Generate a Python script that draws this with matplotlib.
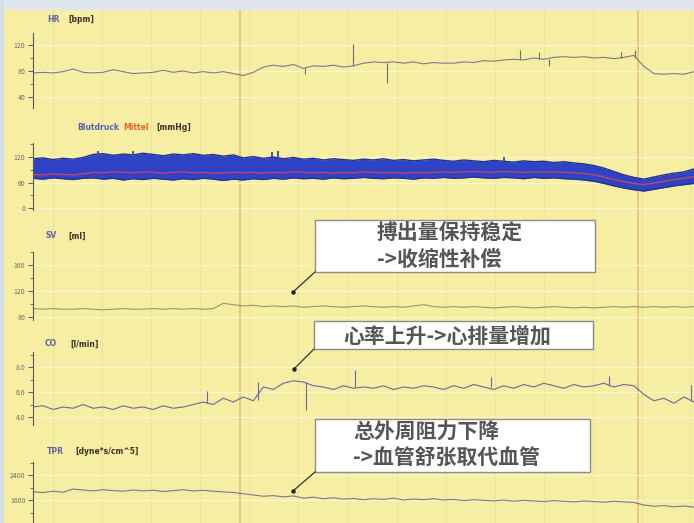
import matplotlib.pyplot as plt
import numpy as np
from matplotlib.patches import Rectangle
from matplotlib.ticker import AutoMinorLocator

plt.rcParams['font.family'] = ['Noto Sans CJK SC', 'DejaVu Sans']

# one sample per time step (about 10 px of the original trace)
hr = [77, 78, 77, 79, 83, 78, 77, 78, 82, 79,
      76, 77, 78, 81, 78, 80, 77, 79, 77, 79,
      76, 73, 78, 86, 89, 87, 90, 84, 88, 87,
      89, 86, 88, 92, 94, 93, 94, 92, 94, 91,
      93, 92, 92, 94, 93, 96, 95, 97, 98, 97,
      100, 98, 101, 102, 101, 102, 100, 101, 99, 101,
      104, 87, 76, 75, 76, 75, 79]
hr_spike_t = [27.2, 32.0, 35.3, 48.6, 50.5, 51.5, 58.7, 60.1]
hr_spike_lo = [75, 88, 62, 98, 99, 88, 100, 100]
hr_spike_hi = [85, 121, 93, 112, 110, 99, 109, 113]

bp_upper = [116, 118, 114, 117, 115, 119, 126, 128, 124, 127,
            125, 129, 126, 123, 127, 125, 128, 124, 126, 122,
            125, 118, 121, 117, 120, 116, 119, 115, 117, 113,
            116, 114, 112, 115, 113, 116, 112, 114, 111, 113,
            115, 112, 110, 113, 111, 109, 112, 110, 108, 111,
            109, 110, 107, 109, 106, 104, 100, 94, 86, 78,
            72, 68, 73, 78, 82, 85, 92]
bp_lower = [70, 68, 71, 69, 67, 70, 71, 68, 70, 66,
            69, 67, 70, 68, 66, 69, 67, 70, 68, 65,
            68, 66, 69, 67, 70, 68, 71, 69, 70, 68,
            71, 69, 70, 72, 70, 69, 71, 70, 68, 71,
            70, 72, 70, 71, 73, 71, 70, 72, 71, 69,
            72, 70, 71, 69, 68, 66, 63, 58, 52, 47,
            43, 40, 44, 48, 52, 55, 58]
bp_mean = [79, 78, 80, 79, 78, 80, 84, 83, 85, 84,
           83, 85, 84, 82, 84, 85, 83, 84, 82, 83,
           84, 83, 84, 82, 84, 83, 85, 84, 83, 84,
           82, 84, 83, 85, 84, 83, 84, 82, 84, 83,
           84, 85, 84, 85, 86, 85, 84, 86, 85, 84,
           85, 84, 85, 84, 83, 81, 78, 73, 67, 62,
           58, 55, 59, 63, 67, 70, 74]
bp_spike_t = [6.5, 10.0, 23.9, 24.5, 47.0]
bp_spike_lo = [126, 127, 117, 118, 110]
bp_spike_hi = [134, 133, 131, 135, 119]

sv = [93, 92, 93, 92, 92, 93, 92, 91, 92, 93,
      92, 92, 93, 92, 93, 92, 93, 92, 93, 101,
      99, 97, 98, 96, 97, 96, 97, 95, 96, 97,
      96, 95, 96, 97, 96, 95, 96, 95, 97, 99,
      96, 95, 96, 95, 96, 95, 94, 95, 96, 95,
      94, 95, 96, 95, 94, 95, 94, 95, 96, 95,
      96, 95, 96, 95, 96, 95, 96]

co = [4.8, 4.9, 4.6, 4.8, 4.7, 5.0, 4.7, 4.8, 4.6, 4.9,
      4.7, 4.8, 4.6, 4.9, 4.7, 4.8, 5.0, 5.2, 5.0, 5.5,
      5.2, 5.6, 5.3, 6.4, 6.2, 6.7, 6.9, 6.8, 6.5, 6.4,
      6.2, 6.5, 6.3, 6.4, 6.3, 6.5, 6.2, 6.4, 6.3, 6.5,
      6.4, 6.2, 6.5, 6.3, 6.6, 6.4, 6.2, 6.5, 6.3, 6.6,
      6.4, 6.7, 6.5, 6.3, 6.6, 6.4, 6.5, 6.7, 6.4, 6.6,
      6.5, 5.8, 5.3, 5.5, 5.1, 5.6, 5.2]
co_spike_t = [17.4, 22.5, 27.3, 32.2, 45.7, 57.5, 65.7]
co_spike_lo = [5.1, 5.4, 4.6, 6.4, 6.4, 6.5, 5.3]
co_spike_hi = [6.1, 6.8, 6.8, 7.8, 7.2, 7.3, 6.6]

tpr = [1860, 1840, 1880, 1850, 1950, 1920, 1890, 1930, 1900, 1880,
       1920, 1890, 1910, 1870, 1900, 1930, 1890, 1910, 1880, 1860,
       1840, 1800, 1760, 1720, 1740, 1700, 1730, 1660, 1690, 1640,
       1670, 1630, 1650, 1610, 1640, 1620, 1660, 1600, 1630, 1610,
       1640, 1600, 1620, 1580, 1610, 1590, 1570, 1600, 1560, 1590,
       1570, 1550, 1580, 1560, 1540, 1570, 1550, 1530, 1560, 1540,
       1520, 1440, 1400, 1420, 1380, 1410, 1370]

event_t = [20.7, 60.4]

W, H = 694, 523
YELLOW = '#f6eea2'
fig = plt.figure(figsize=(W / 100, H / 100), dpi=100)
fig.patch.set_facecolor(YELLOW)


def px_axes(top, bottom, left=33, right=694):
    return fig.add_axes([left / W, 1 - bottom / H, (right - left) / W, (bottom - top) / H])


# background: faint vertical grid and event markers
bg = px_axes(10, H)
bg.set_xlim(0, 66)
bg.set_ylim(0, 1)
bg.axis('off')
for x in np.arange(2, 66, 4.9):
    bg.axvline(x, color='#ece3a0', lw=0.8)
for x in event_t:
    bg.axvline(x, color='#e2c07c', lw=1.2)


def panel(top, bottom, ylim, ticks, labels):
    ax = px_axes(top, bottom)
    ax.set_facecolor('none')
    ax.set_xlim(0, 66)
    ax.set_ylim(*ylim)
    for s in ['top', 'right', 'bottom']:
        ax.spines[s].set_visible(False)
    ax.spines['left'].set_color('#5a5a5a')
    ax.spines['left'].set_linewidth(0.8)
    ax.set_xticks([])
    ax.set_yticks(ticks)
    ax.set_yticklabels(labels, fontsize=5, color='#707070')
    ax.yaxis.set_minor_locator(AutoMinorLocator(2))
    ax.tick_params(axis='y', which='major', length=3.5, width=0.7, color='#5a5a5a', pad=2)
    ax.tick_params(axis='y', which='minor', length=2, width=0.6, color='#5a5a5a')
    ax.grid(axis='y', color='#fbf6cc', lw=0.9)
    ax.set_axisbelow(True)
    return ax


t = np.arange(len(hr))
trace_kw = dict(lw=0.8)

ax_hr = panel(33, 108, (23, 138.5), [40, 80, 120], ['40', '80', '120'])
ax_hr.plot(np.arange(len(hr)), hr, color='#7c7a8e', **trace_kw)
ax_hr.vlines(hr_spike_t, hr_spike_lo, hr_spike_hi, color='#6c6a80', lw=0.8)

ax_bp = panel(143, 210, (-4.7, 153), [0, 60, 120], ['0', '60', '120'])
tb = np.arange(len(bp_upper))
ax_bp.fill_between(tb, bp_lower, bp_upper, color='#2e44c4', lw=0)
ax_bp.plot(tb, bp_upper, color='#24348e', lw=1.0)
ax_bp.plot(tb, bp_lower, color='#24348e', lw=1.0)
ax_bp.vlines(bp_spike_t, bp_spike_lo, bp_spike_hi, color='#2a3a9e', lw=1.2)
ax_bp.plot(tb, bp_mean, color='#c2456a', lw=1.0)

ax_sv = panel(252, 320, (75.4, 180), [80, 120, 160], ['80', '120', '160'])
ax_sv.plot(np.arange(len(sv)), sv, color='#9a9284', **trace_kw)

ax_co = panel(352, 425, (3.36, 9.2), [4, 6, 8], ['4.0', '6.0', '8.0'])
ax_co.plot(np.arange(len(co)), co, color='#6a68a2', **trace_kw)
ax_co.vlines(co_spike_t, co_spike_lo, co_spike_hi, color='#6a68a2', lw=0.8)

ax_tpr = panel(462, 523, (864, 2816), [1600, 2400], ['1600', '2400'])
ax_tpr.plot(np.arange(len(tpr)), tpr, color='#7a7898', **trace_kw)

# overlay in pixel coordinates for labels and callouts
ov = fig.add_axes([0, 0, 1, 1])
ov.set_xlim(0, W)
ov.set_ylim(H, 0)
ov.axis('off')
ov.add_patch(Rectangle((0, 0), W, 10, color='#dfe6ee', lw=0))
ov.add_patch(Rectangle((0, 0), 4, H, color='#d6dde4', lw=0))

lab = dict(fontsize=5.5, fontweight='bold', va='center', ha='left', family=['DejaVu Sans'])
ov.text(47, 19, 'HR', color='#5c64a8', **lab)
ov.text(68, 19, '[bpm]', color='#3a3222', **lab)
ov.text(77, 127, 'Blutdruck', color='#5a62b0', **lab)
ov.text(123, 127, 'Mittel', color='#e06a2a', **lab)
ov.text(156, 127, '[mmHg]', color='#3a3222', **lab)
ov.text(46, 236, 'SV', color='#5c64a8', **lab)
ov.text(68, 236, '[ml]', color='#3a3222', **lab)
ov.text(45, 344, 'CO', color='#5c64a8', **lab)
ov.text(70, 344, '[l/min]', color='#3a3222', **lab)
ov.text(47, 451, 'TPR', color='#5c64a8', **lab)
ov.text(75, 451, '[dyne*s/cm^5]', color='#3a3222', **lab)

callouts = [
    ((315, 220, 280, 52), ['搏出量保持稳定', '->收缩性补偿'], 377, (293, 292)),
    ((314, 321, 279, 28), ['心率上升->心排量增加'], 343, (294, 369)),
    ((315, 419, 275, 53), ['总外周阻力下降', '->血管舒张取代血管'], 353, (293, 491)),
]
for (x0, y0, w, h), lines, tx, dot in callouts:
    ov.add_patch(Rectangle((x0, y0), w, h, fc='white', ec='#8c8c8c', lw=1.0))
    ov.plot([x0, dot[0]], [y0 + h, dot[1]], color='#333333', lw=0.9)
    ov.plot(*dot, 'o', color='#222222', ms=2.2)
    n = len(lines)
    for i, line in enumerate(lines):
        ty = y0 + h * (i + 0.5) / n + (1 if n == 1 else 0)
        ov.text(tx, ty, line, fontsize=15, fontweight='bold', color='#555555',
                va='center', ha='left')

fig.savefig('out.png', dpi=100)
